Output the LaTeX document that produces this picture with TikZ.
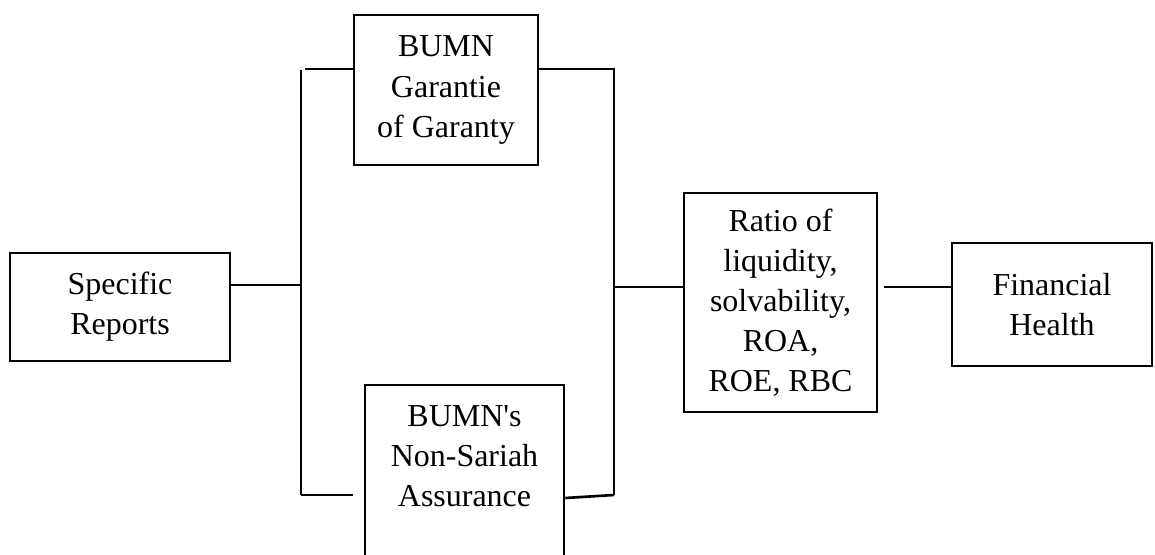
\documentclass[tikz,border=0pt]{standalone}
\usepackage{fontspec}
\setmainfont{Liberation Serif}
\usetikzlibrary{positioning, calc}

\begin{document}
\begin{tikzpicture}[x=0.02cm, y=-0.02cm,
  blockbox/.style={draw, line width=1.5pt, align=center, inner sep=2pt,
    font=\fontsize{18.2}{22.8}\selectfont},
  link/.style={line width=1.5pt},
  thinlink/.style={line width=0.6pt}]

% Page frame
\useasboundingbox (0,0) rectangle (1155,554);
\clip (0,0) rectangle (1155,554);

% --- Boxes ---
\node[blockbox, minimum width=4.4cm, minimum height=2.16cm] (spec) at (120,307) {Specific\\Reports};
\node[blockbox, minimum width=3.68cm, minimum height=3.0cm] (bumn) at (446,90) {BUMN\\Garantie\\of Garanty};
\node[blockbox, minimum width=3.98cm, minimum height=3.9cm] (nonsar) at (464.5,482.5) {BUMN\textquotesingle s\\Non-Sariah\\Assurance\\\strut};
\node[blockbox, minimum width=3.86cm, minimum height=4.38cm] (ratio) at (780.5,302.5) {Ratio of\\liquidity,\\solvability,\\ROA,\\ROE, RBC};
\node[blockbox, minimum width=4.0cm, minimum height=2.46cm] (fin) at (1052,304.5) {Financial\\Health};

% --- Junction points ---
\coordinate (jl) at (301,285);
\coordinate (ltop) at (301,70);
\coordinate (lbot) at (301,495);
\coordinate (tl) at (305,69);
\coordinate (tr) at (614,69);
\coordinate (rbot) at (614,495);
\coordinate (rmid) at (614,287);

% --- Left fork ---
\draw[link] (spec.east |- jl) -- (jl);
\draw[link] (ltop) -- (lbot);
\draw[link] (tl) -- (bumn.west |- tl);
\draw[thinlink, shorten >=0.22cm] (lbot) -- (nonsar.west |- lbot);

% --- Right fork ---
\draw[link] (bumn.east |- tr) -- (tr) -- (rbot);
\draw[link] ([yshift=-0.31cm]nonsar.east) -- (rbot);
\draw[thinlink] (rmid) -- (ratio.west |- rmid);

% Ratio to health
\draw[link, shorten <=0.12cm] (ratio.east |- rmid) -- (fin.west |- rmid);

\end{tikzpicture}
\end{document}
